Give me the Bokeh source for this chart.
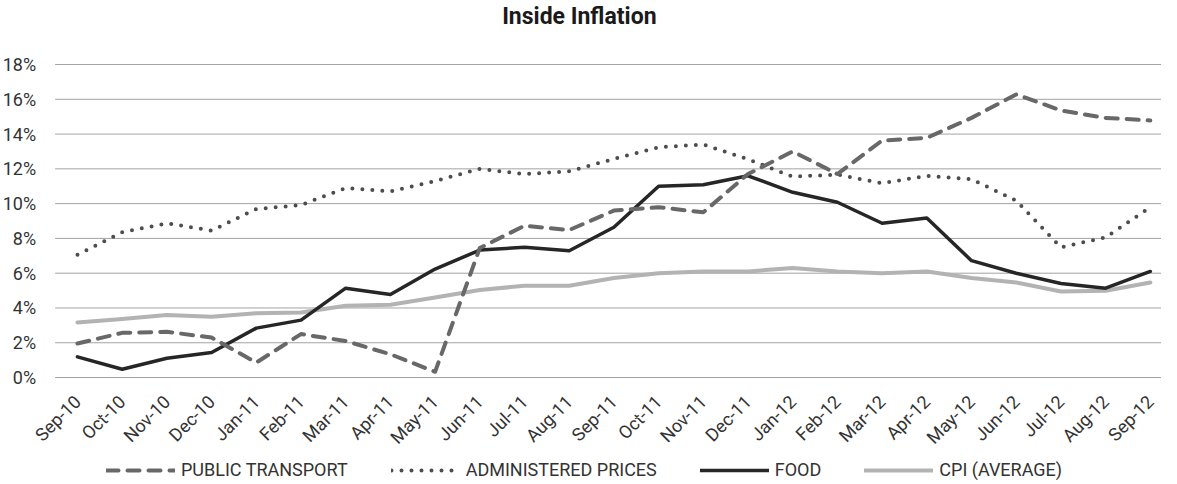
import math
from bokeh.plotting import figure
from bokeh.models import Range1d, FixedTicker, Legend, LegendItem, Label
from bokeh.embed import file_html
from bokeh.resources import INLINE

months = ["Sep-10", "Oct-10", "Nov-10", "Dec-10", "Jan-11", "Feb-11", "Mar-11", "Apr-11",
          "May-11", "Jun-11", "Jul-11", "Aug-11", "Sep-11", "Oct-11", "Nov-11", "Dec-11",
          "Jan-12", "Feb-12", "Mar-12", "Apr-12", "May-12", "Jun-12", "Jul-12", "Aug-12", "Sep-12"]

public_transport = [1.96, 2.57, 2.63, 2.30, 0.86, 2.50, 2.10, 1.34, 0.33, 7.45, 8.73, 8.48,
                    9.60, 9.79, 9.50, 11.70, 13.00, 11.70, 13.63, 13.78, 14.93, 16.28, 15.36,
                    14.93, 14.78]
administered_prices = [7.06, 8.35, 8.87, 8.45, 9.69, 9.92, 10.90, 10.70, 11.30, 12.00, 11.70,
                       11.86, 12.57, 13.24, 13.40, 12.55, 11.55, 11.67, 11.17, 11.60, 11.40,
                       10.17, 7.49, 8.06, 9.79]
food = [1.19, 0.48, 1.11, 1.44, 2.84, 3.30, 5.14, 4.78, 6.24, 7.33, 7.49, 7.29, 8.64, 11.00,
        11.09, 11.60, 10.65, 10.08, 8.87, 9.17, 6.72, 6.00, 5.41, 5.14, 6.10]
cpi_average = [3.17, 3.36, 3.60, 3.50, 3.70, 3.74, 4.13, 4.18, 4.60, 5.03, 5.28, 5.28, 5.72,
               6.00, 6.10, 6.10, 6.30, 6.10, 6.00, 6.10, 5.72, 5.47, 4.95, 4.99, 5.47]

y_ticks = [0, 2, 4, 6, 8, 10, 12, 14, 16, 18]
y_tick_labels = ["0%", "2%", "4%", "6%", "8%", "10%", "12%", "14%", "16%", "18%"]

title_text = "Inside Inflation"
series_labels = ["PUBLIC TRANSPORT", "ADMINISTERED PRICES", "FOOD", "CPI (AVERAGE)"]

FONT = "Roboto"
TEXT = "#333333"

x = list(range(len(months)))
X_START, X_END = -0.5, 24.25   # plot-area edges in category units

# the frame spans the whole figure; both axes are pinned inside it
p = figure(width=1161, height=480, output_backend="svg", toolbar_location=None,
           x_range=Range1d(-1.722, X_END), y_range=Range1d(-5.92, 21.68),
           min_border_left=0, min_border_right=0, min_border_top=0, min_border_bottom=0)
p.outline_line_color = None
p.background_fill_color = "white"

# horizontal gridlines across the plot area only
p.segment(x0=[X_START] * len(y_ticks), x1=[X_END] * len(y_ticks), y0=y_ticks, y1=y_ticks,
          line_color="#a3a3a3", line_width=1)

r_cpi = p.line(x, cpi_average, line_color="#b3b3b3", line_width=4, line_join="round",
               line_cap="round")
r_food = p.line(x, food, line_color="#262626", line_width=3.5, line_join="round",
                line_cap="round")
r_adm = p.line(x, administered_prices, line_color="#4d4d4d", line_width=4,
               line_dash="0 10", line_cap="round", line_join="round")
r_pt = p.line(x, public_transport, line_color="#686868", line_width=4,
              line_dash="12 9", line_cap="round", line_join="round")

# axes
p.xaxis.fixed_location = 0
p.xaxis.ticker = FixedTicker(ticks=x)
p.xaxis.major_label_overrides = {i: m for i, m in enumerate(months)}
p.xaxis.major_label_orientation = math.pi / 4
p.xaxis.major_label_standoff = 21
p.yaxis.fixed_location = X_START
p.yaxis.ticker = FixedTicker(ticks=y_ticks)
p.yaxis.major_label_overrides = dict(zip(y_ticks, y_tick_labels))
p.yaxis.major_label_standoff = 19
for ax in (p.xaxis, p.yaxis):
    ax.axis_line_color = None
    ax.major_tick_line_color = None
    ax.minor_tick_line_color = None
    ax.major_tick_out = 0
    ax.major_tick_in = 0
    ax.minor_tick_out = 0
    ax.major_label_text_font = FONT
    ax.major_label_text_font_size = "18px"
    ax.major_label_text_color = TEXT

p.xgrid.grid_line_color = None
p.ygrid.grid_line_color = None

# title
p.add_layout(Label(x=9.50, y=20.78, text=title_text, text_font=FONT,
                   text_font_size="23px", text_font_style="bold", text_color="#1a1a1a",
                   text_baseline="alphabetic", text_align="left"))

legend = Legend(items=[LegendItem(label=series_labels[0], renderers=[r_pt]),
                       LegendItem(label=series_labels[1], renderers=[r_adm]),
                       LegendItem(label=series_labels[2], renderers=[r_food]),
                       LegendItem(label=series_labels[3], renderers=[r_cpi])],
                location=(106, 0), orientation="horizontal", padding=0, margin=0,
                spacing=43, glyph_width=69, glyph_height=20, label_height=20,
                label_standoff=6, label_text_font=FONT, label_text_font_size="18px",
                label_text_color=TEXT, border_line_color=None, background_fill_alpha=0)
p.add_layout(legend, "center")

open("out.html", "w").write(file_html(p, INLINE))
